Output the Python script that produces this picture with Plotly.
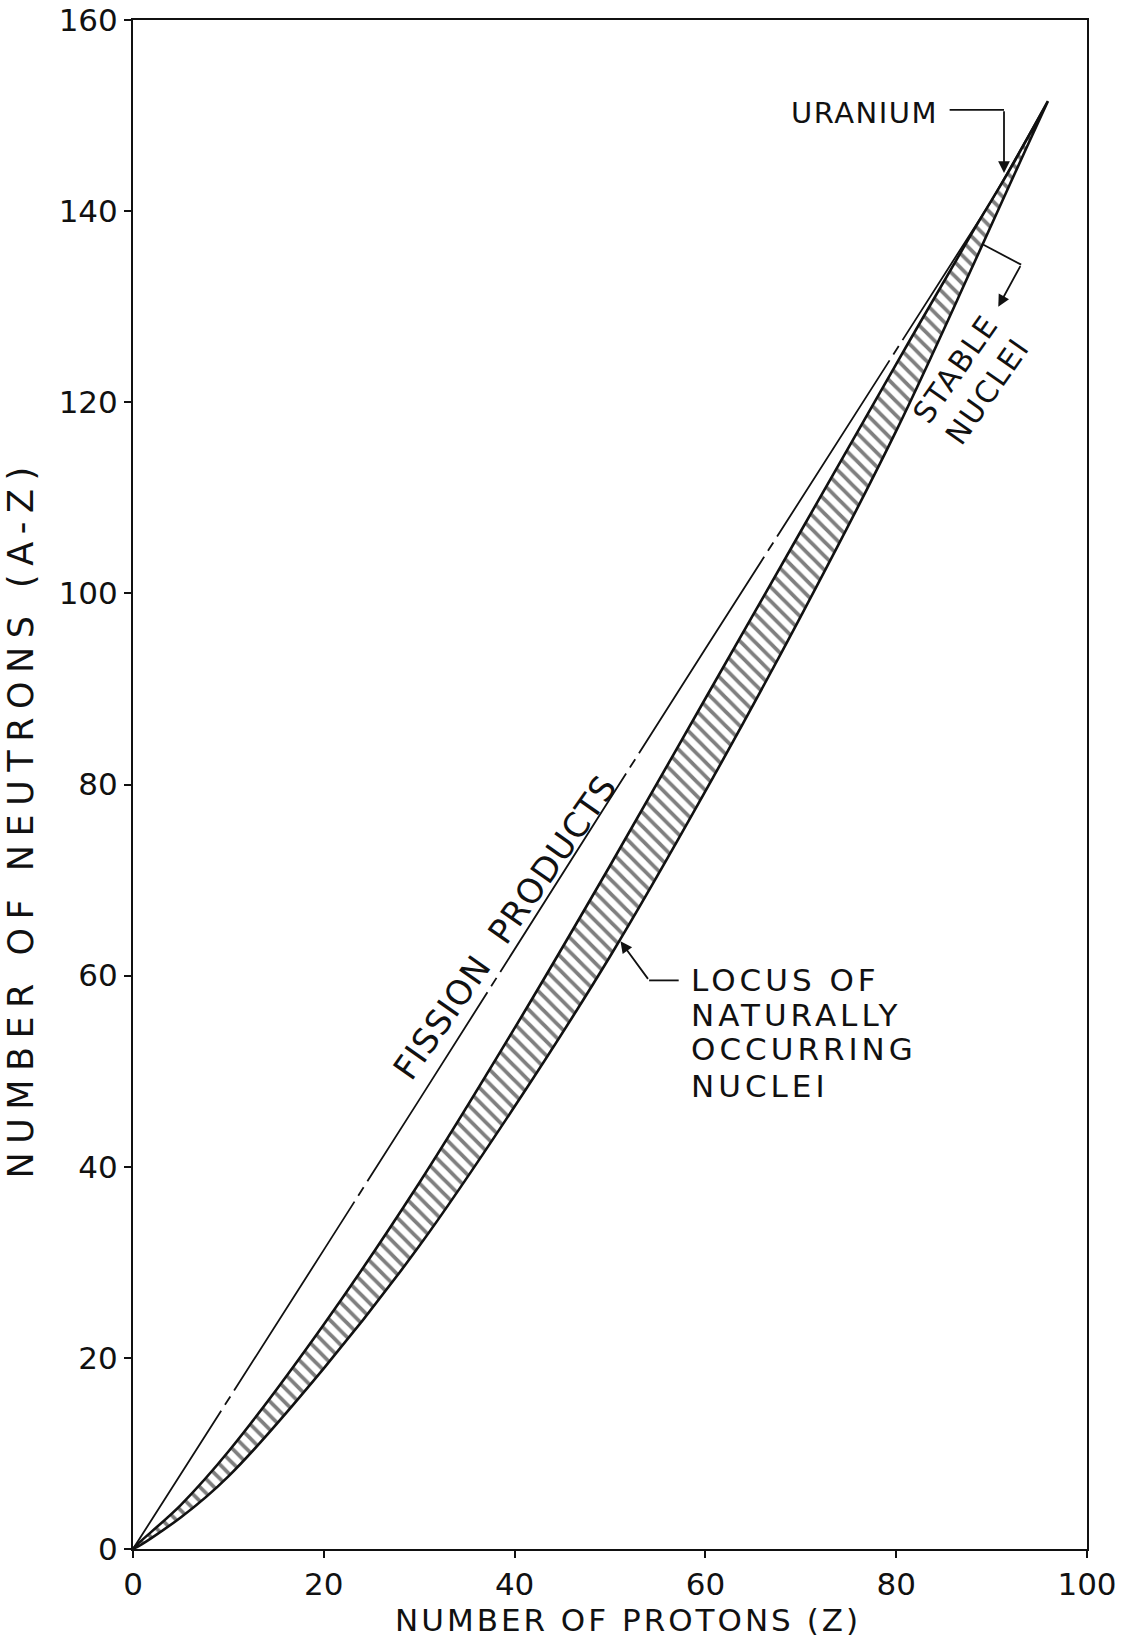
import plotly.graph_objects as go

# ---- data ----
fission_z = [0, 10, 20, 30, 40, 50, 60, 70, 80, 90, 95.9]
fission_n = [0, 15.6, 31.3, 47.0, 62.8, 78.5, 94.2, 109.8, 125.4, 141.1, 151.5]

upper_z = [0, 5, 10, 20, 30, 40, 50, 60, 70, 80, 88, 92, 95.9]
upper_n = [0, 4.6, 10.2, 23.5, 38.3, 54.5, 71.5, 89.0, 106.5, 124.0, 137.8, 144.5, 151.5]

lower_z = [0, 5, 10, 20, 30, 40, 50, 60, 70, 80, 88, 92, 95.9]
lower_n = [0, 3.3, 7.6, 18.9, 31.7, 46.3, 62.0, 79.3, 97.6, 117.0, 134.2, 143.0, 151.5]

x_ticks = [0, 20, 40, 60, 80, 100]
y_ticks = [0, 20, 40, 60, 80, 100, 120, 140, 160]

locus_lines = ["LOCUS OF", "NATURALLY", "OCCURRING", "NUCLEI"]

FONT = "DejaVu Sans"
INK = "#111111"


def spaced(txt, px):
    return f'<span style="letter-spacing:{px}px">{txt}</span>'


fig = go.Figure()

# hatched band of naturally occurring nuclei
band_z = upper_z + lower_z[::-1]
band_n = upper_n + lower_n[::-1]
fig.add_trace(go.Scatter(
    x=band_z, y=band_n, mode="lines", fill="toself",
    fillcolor="white",
    fillpattern=dict(shape="\\", size=10, solidity=0.38, fgcolor="black", bgcolor="white"),
    line=dict(color=INK, width=2.6, shape="spline", smoothing=1.0),
    hoverinfo="skip", showlegend=False))

# fission products line (long dash - dot)
fig.add_trace(go.Scatter(
    x=fission_z, y=fission_n, mode="lines",
    line=dict(color=INK, width=1.8,
              dash="164px,7px,10px,7px,224px,7px,10px,7px,224px,7px,10px,7px,"
                   "235px,7px,10px,7px,233px,7px,10px,7px,209px,7px,10px,7px,3000px"),
    hoverinfo="skip", showlegend=False))

annotations = []
shapes = []

# URANIUM label with bent arrow
annotations.append(dict(x=76.7, y=150.3, xref="x", yref="y", text=spaced("URANIUM", 1.5),
                        showarrow=False, font=dict(family=FONT, size=29, color=INK)))
shapes.append(dict(type="line", xref="x", yref="y", x0=85.6, y0=150.6, x1=91.3, y1=150.6,
                   line=dict(color=INK, width=1.8)))
annotations.append(dict(x=91.3, y=144.0, ax=91.3, ay=150.6, axref="x", ayref="y",
                        xref="x", yref="y", text="", showarrow=True,
                        arrowhead=2, arrowsize=1.3, arrowwidth=1.8, arrowcolor=INK))

# STABLE NUCLEI label with bent arrow
shapes.append(dict(type="line", xref="x", yref="y", x0=89.1, y0=136.5, x1=93.1, y1=134.4,
                   line=dict(color=INK, width=1.8)))
annotations.append(dict(x=90.7, y=130.0, ax=93.1, ay=134.4, axref="x", ayref="y",
                        xref="x", yref="y", text="", showarrow=True,
                        arrowhead=2, arrowsize=1.3, arrowwidth=1.8, arrowcolor=INK))
annotations.append(dict(x=87.9, y=122.3, xref="x", yref="y",
                        text=spaced("STABLE", 2) + "<br>" + spaced("NUCLEI", 2),
                        textangle=-55, showarrow=False,
                        font=dict(family=FONT, size=30, color=INK)))

# FISSION PRODUCTS label
annotations.append(dict(x=39.0, y=65.1, xref="x", yref="y",
                        text=spaced("FISSION  PRODUCTS", 1),
                        textangle=-55, showarrow=False,
                        font=dict(family=FONT, size=34, color=INK)))

# LOCUS label with bent arrow
locus_n = [59.5, 55.9, 52.3, 48.5]
for txt, n in zip(locus_lines, locus_n):
    annotations.append(dict(x=58.3, y=n, xref="x", yref="y", text=spaced(txt, 4),
                            xanchor="left", showarrow=False,
                            font=dict(family=FONT, size=31, color=INK)))
shapes.append(dict(type="line", xref="x", yref="y", x0=57.2, y0=59.5, x1=54.1, y1=59.5,
                   line=dict(color=INK, width=1.8)))
annotations.append(dict(x=51.1, y=63.6, ax=54.1, ay=59.5, axref="x", ayref="y",
                        xref="x", yref="y", text="", showarrow=True,
                        arrowhead=2, arrowsize=1.3, arrowwidth=1.8, arrowcolor=INK))

# axis titles (paper coordinates so they are drawn outside the plot area)
annotations.append(dict(x=0.519, y=-0.0465, xref="paper", yref="paper",
                        xanchor="center", yanchor="middle",
                        text=spaced("NUMBER OF PROTONS (Z)", 3), showarrow=False,
                        font=dict(family=FONT, size=31, color=INK)))
annotations.append(dict(x=-0.117, y=0.478, xref="paper", yref="paper",
                        xanchor="center", yanchor="middle",
                        text=spaced("NUMBER OF NEUTRONS (A-Z)", 8.5), textangle=-90,
                        showarrow=False, font=dict(family=FONT, size=35, color=INK)))

fig.update_layout(
    width=1123, height=1643,
    margin=dict(l=133, r=36, t=20, b=94, autoexpand=False),
    paper_bgcolor="white", plot_bgcolor="white",
    showlegend=False,
    annotations=annotations, shapes=shapes,
    font=dict(family=FONT, color=INK),
)
fig.update_xaxes(range=[0, 100], tickvals=x_ticks, ticktext=[str(v) for v in x_ticks],
                 automargin=False,
                 showgrid=False, zeroline=False, showline=True, mirror=True,
                 linecolor=INK, linewidth=2, ticks="outside", ticklen=7, tickwidth=2,
                 tickcolor=INK, tickfont=dict(family=FONT, size=31, color=INK))
fig.update_yaxes(range=[0, 160], tickvals=y_ticks, ticktext=[str(v) for v in y_ticks],
                 automargin=False,
                 showgrid=False, zeroline=False, showline=True, mirror=True,
                 linecolor=INK, linewidth=2, ticks="outside", ticklen=7, tickwidth=2,
                 tickcolor=INK, tickfont=dict(family=FONT, size=31, color=INK))

fig.write_html("out.html")
